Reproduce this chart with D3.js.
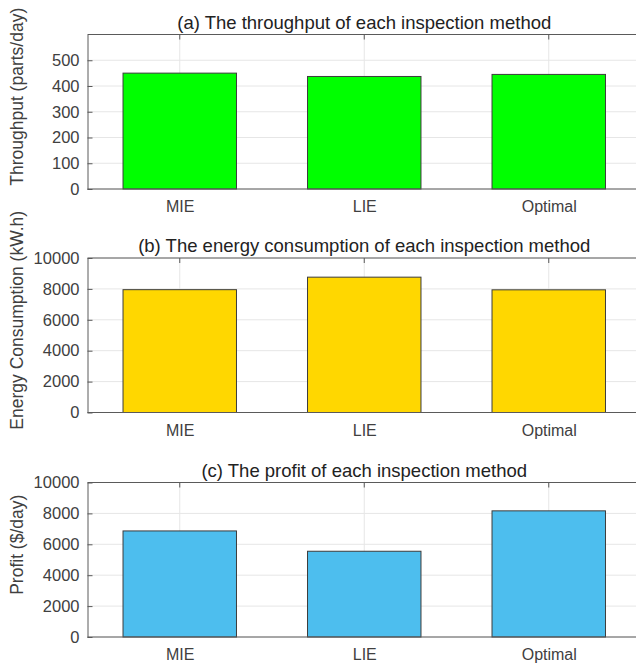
<!DOCTYPE html>
<html>
<head>
<meta charset="utf-8">
<script src="https://cdn.jsdelivr.net/npm/d3@7"></script>
<style>
  html, body { margin: 0; padding: 0; background: #fff; }
  svg { display: block; font-family: "Liberation Sans", Arial, sans-serif; }
</style>
</head>
<body>
<div id="chart"></div>
<script>
const methods = ["MIE", "LIE", "Optimal"];

const throughput = [450, 437, 445];
const energy = [7950, 8760, 7940];
const profit = [6865, 5550, 8165];

const throughputTicks = [0, 100, 200, 300, 400, 500];
const bigTicks = [0, 2000, 4000, 6000, 8000, 10000];

const width = 636;
const height = 666;

const svg = d3.select("#chart")
  .append("svg")
  .attr("width", width)
  .attr("height", height);

const left = 87.5;
const right = 641;

const panels = [
  { title: "(a) The throughput of each inspection method", label: "Throughput (parts/day)",
    values: throughput, max: 600, ticks: throughputTicks, color: "#00ff00", top: 34.5, bottom: 189 },
  { title: "(b) The energy consumption of each inspection method", label: "Energy Consumption (kW.h)",
    values: energy, max: 10000, ticks: bigTicks, color: "#ffd700", top: 258, bottom: 412.5 },
  { title: "(c) The profit of each inspection method", label: "Profit ($/day)",
    values: profit, max: 10000, ticks: bigTicks, color: "#4dbeee", top: 482.5, bottom: 637 }
];

const x = d3.scalePoint()
  .domain(methods)
  .range([left, right])
  .padding(0.5);
const barWidth = x.step() * 0.615;

panels.forEach(p => {
  const y = d3.scaleLinear().domain([0, p.max]).range([p.bottom, p.top]);
  const g = svg.append("g");

  // grid
  g.selectAll(".hgrid")
    .data(p.ticks)
    .join("line")
    .attr("x1", left).attr("x2", right)
    .attr("y1", d => y(d)).attr("y2", d => y(d))
    .attr("stroke", "#e6e6e6");
  g.selectAll(".vgrid")
    .data(methods)
    .join("line")
    .attr("x1", d => x(d)).attr("x2", d => x(d))
    .attr("y1", p.top).attr("y2", p.bottom)
    .attr("stroke", "#e6e6e6");

  // bars
  g.selectAll("rect.bar")
    .data(p.values)
    .join("rect")
    .attr("class", "bar")
    .attr("x", (d, i) => x(methods[i]) - barWidth / 2)
    .attr("width", barWidth)
    .attr("y", d => y(d))
    .attr("height", d => y(0) - y(d))
    .attr("fill", p.color)
    .attr("stroke", "#3c3c3c")
    .attr("stroke-width", 1);

  // y axis (ticks inward)
  const yAxis = g.append("g")
    .attr("transform", `translate(${left},0)`)
    .call(d3.axisLeft(y).tickValues(p.ticks).tickFormat(d3.format("d"))
      .tickSize(-5).tickPadding(8).tickSizeOuter(0));
  yAxis.select(".domain").attr("stroke", "#5a5a5a");
  yAxis.selectAll(".tick line").attr("stroke", "#5a5a5a");
  yAxis.selectAll("text")
    .attr("font-size", 16.5)
    .attr("fill", "#404040")
    .attr("font-family", "Liberation Sans, Arial, sans-serif");

  // x axis
  const xAxis = g.append("g")
    .attr("transform", `translate(0,${p.bottom})`)
    .call(d3.axisBottom(x).tickSize(0).tickPadding(12).tickSizeOuter(0));
  xAxis.select(".domain").remove();
  xAxis.selectAll("text")
    .attr("font-size", 16)
    .attr("fill", "#404040")
    .attr("font-family", "Liberation Sans, Arial, sans-serif");

  // box lines
  g.append("line")
    .attr("x1", left).attr("x2", right)
    .attr("y1", p.bottom).attr("y2", p.bottom)
    .attr("stroke", "#5a5a5a");
  g.append("line")
    .attr("x1", left).attr("x2", right)
    .attr("y1", p.top).attr("y2", p.top)
    .attr("stroke", "#5a5a5a");

  // top tick marks
  g.selectAll(".ttick")
    .data(methods)
    .join("line")
    .attr("x1", d => x(d)).attr("x2", d => x(d))
    .attr("y1", p.top).attr("y2", p.top + 5)
    .attr("stroke", "#5a5a5a");

  // title
  g.append("text")
    .attr("x", (left + right) / 2)
    .attr("y", p.top - 6)
    .attr("text-anchor", "middle")
    .attr("font-size", 18.5)
    .attr("fill", "#222")
    .text(p.title);

  // y label
  g.append("text")
    .attr("transform", `translate(23,${(p.top + p.bottom) / 2 - 15}) rotate(-90)`)
    .attr("text-anchor", "middle")
    .attr("font-size", 17.5)
    .attr("fill", "#404040")
    .text(p.label);
});
</script>
</body>
</html>
